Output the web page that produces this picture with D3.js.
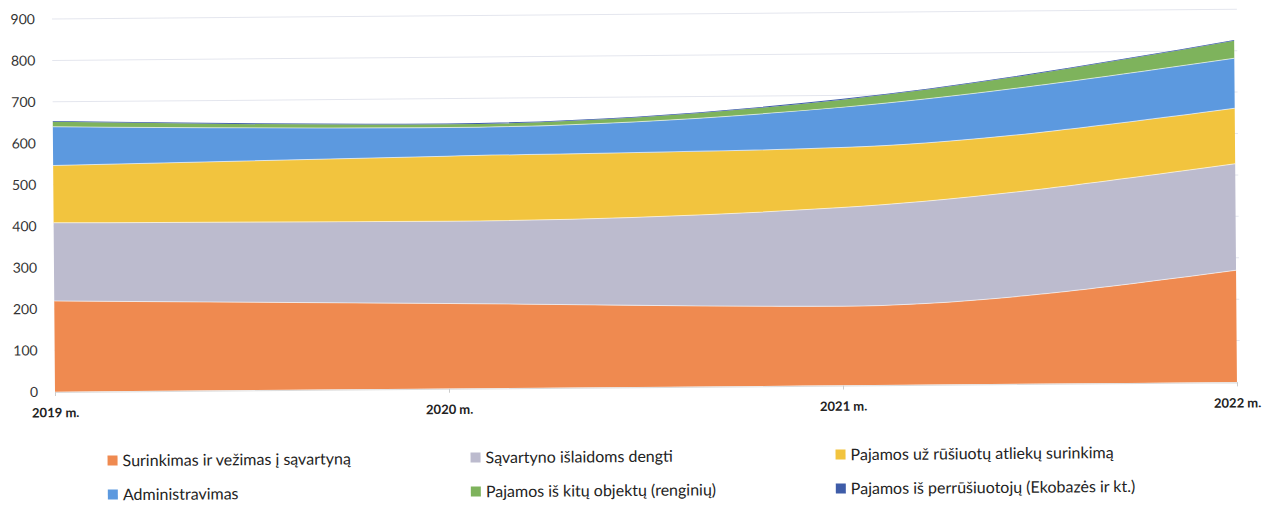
<!DOCTYPE html>
<html><head><meta charset="utf-8">
<script src="https://cdn.jsdelivr.net/npm/d3@7"></script>
<style>body{margin:0;background:#fff;}svg{display:block;}</style>
</head><body>
<svg id="c" width="1280" height="509"></svg>
<script>
const years = ["2019 m.", "2020 m.", "2021 m.", "2022 m."];
const seriesNames = [
  "Surinkimas ir vežimas į sąvartyną",
  "Sąvartyno išlaidoms dengti",
  "Pajamos už rūšiuotų atliekų surinkimą",
  "Administravimas",
  "Pajamos iš kitų objektų (renginių)",
  "Pajamos iš perrūšiuotojų (Ekobazės ir kt.)"
];
const surinkimas = [219, 205, 191, 270];
const savartyno = [189, 199, 238, 257];
const rusiuotu = [138, 157, 145, 134];
const administravimas = [94, 69, 97, 121];
const kituObjektu = [12, 8, 18, 42];
const perrusiuotoju = [2, 2, 2, 2];
const yTicks = [0, 100, 200, 300, 400, 500, 600, 700, 800, 900];
const colors = ["#EF8A50", "#BCBBCE", "#F2C43E", "#5C99DF", "#7EB35C", "#3E5CA8"];

const seriesArrays = [surinkimas, savartyno, rusiuotu, administravimas, kituObjektu, perrusiuotoju];
const table = years.map((yr, i) => {
  const o = {year: yr};
  seriesNames.forEach((n, k) => o[n] = seriesArrays[k][i]);
  return o;
});

const svg = d3.select("#c");
const g = svg.append("g").attr("transform", "rotate(-0.47,55,392)");

const x = d3.scalePoint().domain(years).range([55, 1237]);
const y = d3.scaleLinear().domain([0, 900]).range([391.7, 19]);

const stack = d3.stack().keys(seriesNames);
const layers = stack(table);

const area = d3.area()
  .x(d => x(d.data.year))
  .y0(d => y(d[0]))
  .y1(d => y(d[1]))
  .curve(d3.curveMonotoneX);

g.selectAll("path.layer").data(layers).enter().append("path")
  .attr("class", "layer")
  .attr("d", area)
  .attr("fill", (d, i) => colors[i]);

// thin separators between layers
const line = d3.line().x(d => x(d.data.year)).y(d => y(d[1])).curve(d3.curveMonotoneX);
g.selectAll("path.sep").data(layers.slice(0, 4)).enter().append("path")
  .attr("class", "sep").attr("d", line)
  .attr("fill", "none").attr("stroke", "#ffffff").attr("stroke-opacity", 0.6).attr("stroke-width", 1);

// gridlines above data top
g.selectAll("line.grid").data(yTicks.filter(t => t > 0)).enter().append("line")
  .attr("class", "grid")
  .attr("x1", 55).attr("x2", 1240)
  .attr("y1", d => y(d)).attr("y2", d => y(d))
  .attr("stroke", "#e4e6ee").attr("stroke-width", 1)
  .lower();

// y axis labels
const yAxis = d3.axisLeft(y).tickValues(yTicks).tickSize(0).tickPadding(0);
const ya = g.append("g").attr("transform", "translate(38,0)").call(yAxis);
ya.select(".domain").remove();
ya.selectAll("text").attr("font-family", "Lato, 'Open Sans', sans-serif").attr("font-size", 14).attr("fill", "#333");

// x axis
const xAxis = d3.axisBottom(x).tickSize(4).tickPadding(12);
const xa = g.append("g").attr("transform", "translate(0,392)").call(xAxis);
xa.select(".domain").attr("stroke", "#dcdcdc");
xa.selectAll(".tick line").attr("stroke", "#cccccc");
xa.selectAll("text").attr("font-family", "Lato, 'Open Sans', sans-serif").attr("font-size", 13).attr("font-weight", "bold").attr("fill", "#222");

// legend
const legendPos = [[107, 461], [470, 461], [835, 461], [107, 495], [470, 495], [835, 495]];
const lg = g.append("g").selectAll("g").data(seriesNames).enter().append("g")
  .attr("transform", (d, i) => `translate(${legendPos[i][0]},${legendPos[i][1]})`);
lg.append("rect").attr("x", 0).attr("y", -5).attr("width", 10).attr("height", 10).attr("fill", (d, i) => colors[i]);
lg.append("text").attr("x", 15).attr("y", 0).attr("dy", "0.36em")
  .attr("font-family", "Lato, 'Open Sans', sans-serif").attr("font-size", 16).attr("fill", "#222")
  .text(d => d);
</script>
</body></html>
